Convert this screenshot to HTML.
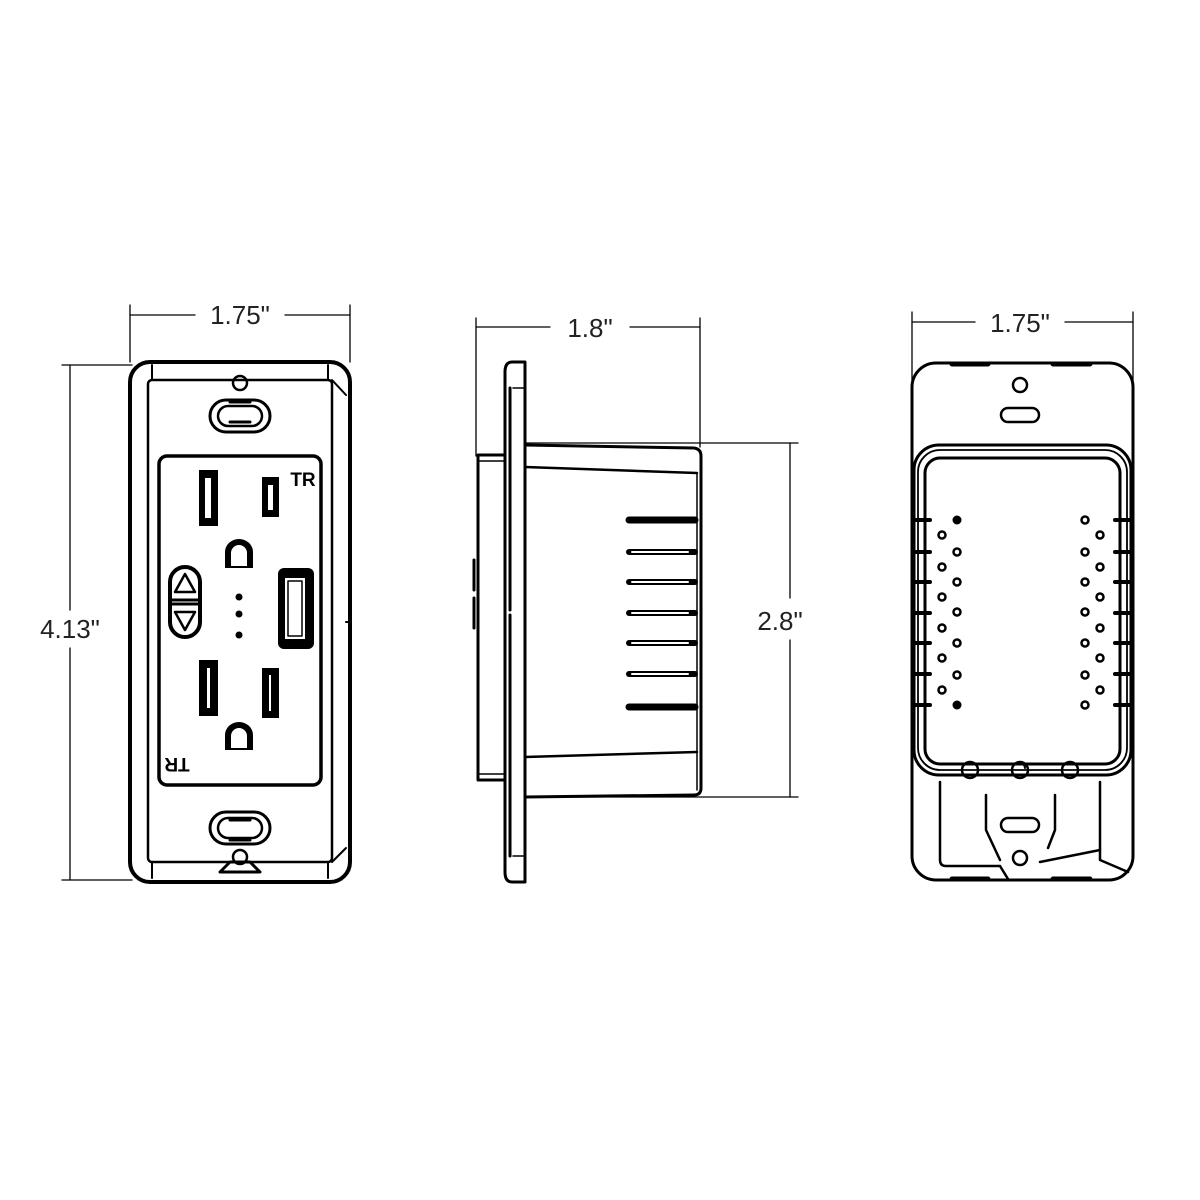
<!DOCTYPE html>
<html><head><style>body{margin:0;background:#fff}svg{display:block}text{font-family:"Liberation Sans",sans-serif;font-size:26px;fill:#222}</style></head><body>
<svg width="1200" height="1200" viewBox="0 0 1200 1200" xmlns="http://www.w3.org/2000/svg" fill="none" stroke="#000" stroke-linecap="round" stroke-linejoin="round">
<!-- LEFT VIEW dims -->
<g stroke-width="1.3">
<line x1="130" y1="305" x2="130" y2="362"/><line x1="350" y1="305" x2="350" y2="362"/>
<line x1="130" y1="315" x2="195" y2="315"/><line x1="285" y1="315" x2="350" y2="315"/>
<line x1="62" y1="365" x2="132" y2="365"/><line x1="62" y1="880" x2="132" y2="880"/>
<line x1="70" y1="365" x2="70" y2="610"/><line x1="70" y1="648" x2="70" y2="880"/>
</g>
<text x="240" y="324" text-anchor="middle" stroke="none">1.75"</text>
<text x="70" y="638" text-anchor="middle" stroke="none">4.13"</text>
<!-- plate -->
<rect x="130" y="362" width="220" height="520" rx="20" stroke-width="4"/>
<rect x="148" y="380" width="184" height="482" rx="4" stroke-width="2.5"/>
<line x1="152" y1="365" x2="152" y2="380" stroke-width="2"/><line x1="328" y1="365" x2="328" y2="380" stroke-width="2"/>
<line x1="152" y1="862" x2="152" y2="878" stroke-width="2"/><line x1="328" y1="862" x2="328" y2="878" stroke-width="2"/>
<path d="M332 380 L346 395" stroke-width="2"/><path d="M332 862 L346 848" stroke-width="2"/>
<line x1="350" y1="622" x2="346" y2="622" stroke-width="2"/>
<!-- screw ovals -->
<circle cx="240" cy="383" r="7" stroke-width="2.5"/>
<rect x="210" y="400" width="60" height="32" rx="16" stroke-width="3"/>
<rect x="218" y="406" width="44" height="20" rx="10" stroke-width="2.5"/>
<line x1="230" y1="402" x2="250" y2="402" stroke-width="3"/><line x1="230" y1="422" x2="250" y2="422" stroke-width="3"/>
<rect x="210" y="812" width="60" height="32" rx="16" stroke-width="3"/>
<rect x="218" y="818" width="44" height="20" rx="10" stroke-width="2.5"/>
<line x1="230" y1="820" x2="250" y2="820" stroke-width="3"/><line x1="230" y1="840" x2="250" y2="840" stroke-width="3"/>
<circle cx="240" cy="857" r="7" stroke-width="2.5"/>
<path d="M220 872 L230 862 H250 L260 872 Z" stroke-width="3"/>
<!-- face -->
<rect x="159" y="456" width="162" height="329" rx="8" stroke-width="3.5"/>
<g fill="#000" stroke="none">
<rect x="199" y="470" width="19" height="56"/><rect x="262" y="477" width="17" height="40"/>
<rect x="199" y="660" width="19" height="56"/><rect x="262" y="668" width="17" height="50"/>
<rect x="278" y="568" width="36" height="81" rx="6"/>
<circle cx="239" cy="597" r="3.5"/><circle cx="239" cy="614" r="3.5"/><circle cx="239" cy="635" r="3.5"/>
</g>
<g fill="#fff" stroke="none">
<rect x="205" y="478" width="6" height="40"/><rect x="268" y="485" width="5" height="25"/>
<rect x="207" y="668" width="3" height="40"/><rect x="269" y="675" width="2" height="36"/>
<rect x="285" y="578" width="20" height="61"/>
</g>
<rect x="288" y="581" width="14" height="55" stroke-width="1.5"/>
<path d="M225 568 V552 a14 13 0 0 1 28 0 V568 Z" fill="#000" stroke="none"/>
<path d="M231 566 V553 a8 8 0 0 1 16 0 V566 Z" fill="#fff" stroke="none"/>
<path d="M225 750 V735 a14 13 0 0 1 28 0 V750 Z" fill="#000" stroke="none"/>
<path d="M231 748 V736 a8 8 0 0 1 16 0 V748 Z" fill="#fff" stroke="none"/>
<rect x="170" y="567" width="30" height="70" rx="15" stroke-width="4"/>
<line x1="170" y1="600" x2="200" y2="600" stroke-width="3"/><line x1="170" y1="604" x2="200" y2="604" stroke-width="3"/>
<path d="M185 574 L195 592 H175 Z" stroke-width="2.5"/><path d="M185 630 L195 612 H175 Z" stroke-width="2.5"/>
<text x="303" y="486" text-anchor="middle" stroke="none" style="font-size:19px;font-weight:bold;fill:#000">TR</text>
<text x="177" y="772" text-anchor="middle" stroke="none" transform="rotate(180 177 765)" style="font-size:19px;font-weight:bold;fill:#000">TR</text>
<!-- MIDDLE VIEW dims -->
<g stroke-width="1.3">
<line x1="476" y1="318" x2="476" y2="456"/><line x1="700" y1="318" x2="700" y2="447"/>
<line x1="476" y1="327" x2="550" y2="327"/><line x1="630" y1="327" x2="700" y2="327"/>
<line x1="525" y1="443" x2="798" y2="443"/><line x1="525" y1="797" x2="798" y2="797"/>
<line x1="790" y1="443" x2="790" y2="598"/><line x1="790" y1="640" x2="790" y2="797"/>
</g>
<text x="590" y="337" text-anchor="middle" stroke="none">1.8"</text>
<text x="780" y="630" text-anchor="middle" stroke="none">2.8"</text>
<!-- flange -->
<path d="M525 362 H512 Q505 362 505 372 V872 Q505 882 512 882 H525 Z" stroke-width="3"/>
<line x1="510" y1="388" x2="510" y2="610" stroke-width="3"/><line x1="510" y1="615" x2="510" y2="856" stroke-width="3"/>
<line x1="513" y1="388" x2="525" y2="388" stroke-width="1.5"/><line x1="513" y1="856" x2="525" y2="856" stroke-width="1.5"/>
<rect x="478" y="455" width="27" height="325" stroke-width="3"/>
<line x1="478" y1="461" x2="505" y2="461" stroke-width="1.5"/><line x1="478" y1="774" x2="505" y2="774" stroke-width="1.5"/>
<path d="M474 560 V590 M474 598 V628" stroke-width="3"/>
<!-- body -->
<path d="M525 445 L694 448 Q701 449 701 456 V788 Q701 795 694 795 L525 797" stroke-width="3"/>
<path d="M525 467 L697 473 M525 757 L697 752" stroke-width="2.5"/>
<line x1="697" y1="473" x2="697" y2="790" stroke-width="1.5"/>
<g stroke-width="7"><line x1="629" y1="520" x2="695" y2="520"/><line x1="629" y1="707" x2="695" y2="707"/></g>
<g stroke-width="6"><line x1="629" y1="552" x2="695" y2="552"/><line x1="629" y1="582" x2="695" y2="582"/><line x1="629" y1="613" x2="695" y2="613"/><line x1="629" y1="643" x2="695" y2="643"/><line x1="629" y1="674" x2="695" y2="674"/></g>
<g stroke="#fff" stroke-width="2"><line x1="632" y1="552" x2="688" y2="552"/><line x1="632" y1="582" x2="688" y2="582"/><line x1="632" y1="613" x2="688" y2="613"/><line x1="632" y1="643" x2="688" y2="643"/><line x1="632" y1="674" x2="688" y2="674"/></g>
<!-- RIGHT VIEW dims -->
<g stroke-width="1.3">
<line x1="912" y1="312" x2="912" y2="380"/><line x1="1133" y1="312" x2="1133" y2="380"/>
<line x1="912" y1="322" x2="975" y2="322"/><line x1="1065" y1="322" x2="1133" y2="322"/>
</g>
<text x="1020" y="332" text-anchor="middle" stroke="none">1.75"</text>
<rect x="912" y="363" width="221" height="517" rx="24" stroke-width="3"/>
<path d="M952 364 H988 M1053 364 H1090 M952 879 H988 M1053 879 H1090" stroke-width="5"/>
<circle cx="1020" cy="385" r="7" stroke-width="2.5"/>
<path d="M1008 408 H1032 A7 7 0 1 1 1032 422 H1008 A7 7 0 1 1 1008 408 Z" stroke-width="2.5"/>
<rect x="914" y="445" width="217" height="330" rx="25" stroke-width="3"/>
<rect x="918" y="450" width="209" height="320" rx="22" stroke-width="1.8"/>
<rect x="925" y="458" width="195" height="306" rx="15" stroke-width="3"/>
<g stroke-width="2.5">
<circle cx="957" cy="552" r="3.5"/><circle cx="957" cy="582" r="3.5"/><circle cx="957" cy="612" r="3.5"/><circle cx="957" cy="643" r="3.5"/><circle cx="957" cy="675" r="3.5"/>
<circle cx="942" cy="535" r="3.5"/><circle cx="942" cy="567" r="3.5"/><circle cx="942" cy="597" r="3.5"/><circle cx="942" cy="628" r="3.5"/><circle cx="942" cy="658" r="3.5"/><circle cx="942" cy="690" r="3.5"/>
<circle cx="1085" cy="520" r="3.5"/><circle cx="1100" cy="535" r="3.5"/><circle cx="1085" cy="552" r="3.5"/><circle cx="1100" cy="567" r="3.5"/><circle cx="1085" cy="582" r="3.5"/><circle cx="1100" cy="597" r="3.5"/><circle cx="1085" cy="612" r="3.5"/><circle cx="1100" cy="628" r="3.5"/><circle cx="1085" cy="643" r="3.5"/><circle cx="1100" cy="658" r="3.5"/><circle cx="1085" cy="675" r="3.5"/><circle cx="1100" cy="690" r="3.5"/><circle cx="1085" cy="705" r="3.5"/>
</g>
<g fill="#000" stroke="none"><circle cx="957" cy="520" r="4.5"/><circle cx="957" cy="705" r="4.5"/></g>
<g stroke-width="4">
<path d="M914 520 H930 M914 552 H930 M914 582 H930 M914 613 H930 M914 643 H930 M914 674 H930 M914 705 H930"/>
<path d="M1115 520 H1131 M1115 552 H1131 M1115 582 H1131 M1115 613 H1131 M1115 643 H1131 M1115 674 H1131 M1115 705 H1131"/>
</g>
<circle cx="970" cy="770" r="8" stroke-width="2.5"/><circle cx="1020" cy="770" r="8" stroke-width="2.5"/><circle cx="1070" cy="770" r="8" stroke-width="2.5"/>
<path d="M1015 764 a6 6 0 0 1 10 4" stroke-width="2"/>
<path d="M940 782 V860 Q940 866 946 866 H1000 L1008 879" stroke-width="2.5"/>
<path d="M1100 782 V860 L1128 872" stroke-width="2.5"/>
<path d="M986 795 V830 L1000 860 M1055 795 V830 L1048 848" stroke-width="2.5"/>
<path d="M1040 862 L1100 850" stroke-width="2.5"/>
<path d="M1008 818 H1032 A7 7 0 1 1 1032 832 H1008 A7 7 0 1 1 1008 818 Z" stroke-width="2.5"/>
<circle cx="1020" cy="858" r="7" stroke-width="2.5"/>
</svg>
</body></html>
